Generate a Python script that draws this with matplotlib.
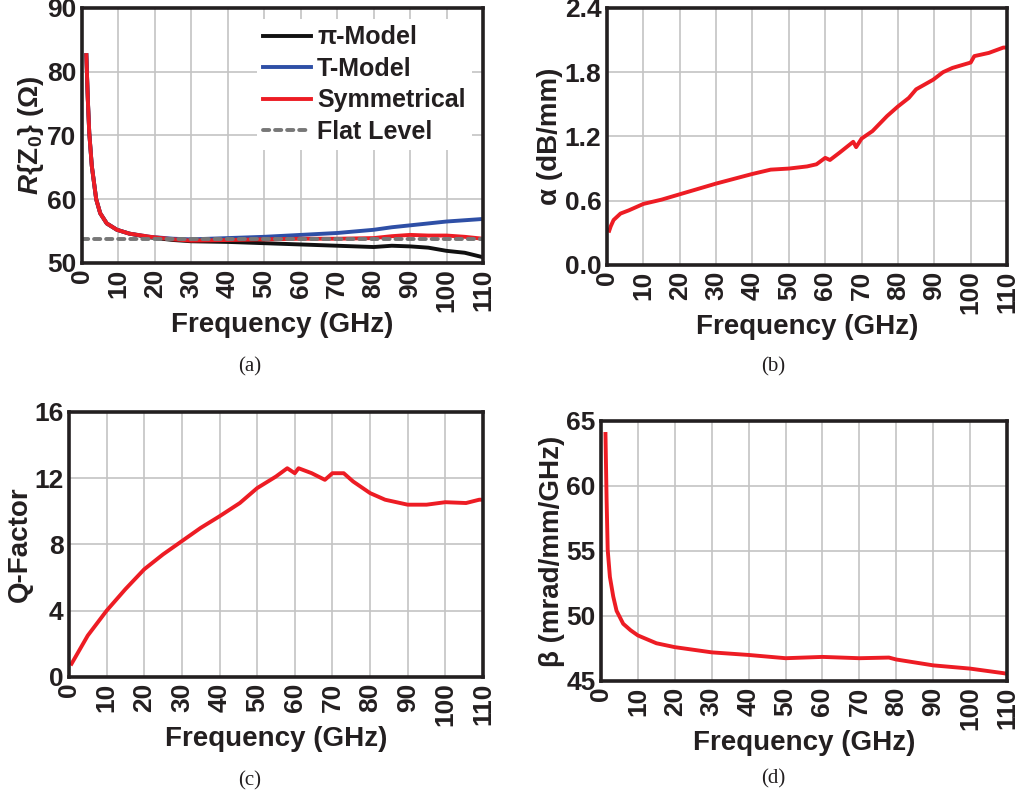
import matplotlib
matplotlib.use('Agg')
from matplotlib import pyplot as plt

# ---- data ----
freq_a = [1.2, 1.6, 2.0, 2.7, 3.9, 5.0, 6.8, 9.6, 13, 18.7, 25, 30, 40, 50,
          60, 70, 80, 85, 90, 95, 100, 105, 110]
pi_model = [82.6, 75.7, 70.4, 65.2, 60.0, 57.8, 56.2, 55.2, 54.6, 54.0, 53.6, 53.4,
            53.3, 53.1, 52.9, 52.7, 52.5, 52.7, 52.6, 52.4, 51.9, 51.6, 50.9]
t_model = [82.6, 75.7, 70.4, 65.2, 60.0, 57.8, 56.2, 55.2, 54.6, 54.1, 53.8, 53.7,
           53.9, 54.1, 54.4, 54.7, 55.2, 55.6, 55.9, 56.2, 56.5, 56.7, 56.9]
symmetrical = [82.6, 75.7, 70.4, 65.2, 60.0, 57.8, 56.2, 55.2, 54.6, 54.1, 53.7, 53.5,
               53.6, 53.7, 53.8, 53.8, 53.9, 54.2, 54.4, 54.3, 54.3, 54.1, 53.8]
flat_level = 53.7

freq_b = [0.6, 1.0, 1.8, 3.7, 6, 10, 15, 20, 30, 40, 45, 50, 55, 57.6, 60, 61.3,
          64, 67.7, 68.5, 70, 73, 77, 80, 83, 85, 89.7, 92.4, 95, 100, 101, 105, 109, 110]
alpha = [0.32, 0.36, 0.42, 0.48, 0.51, 0.57, 0.61, 0.66, 0.76, 0.85, 0.89, 0.90, 0.92,
         0.94, 1.00, 0.98, 1.05, 1.15, 1.10, 1.18, 1.25, 1.39, 1.48, 1.56, 1.64, 1.73,
         1.80, 1.84, 1.89, 1.95, 1.98, 2.03, 2.03]

freq_c = [0.7, 5, 10, 15, 20, 25, 30, 35, 40, 45.4, 50, 55, 58, 60, 61, 64.5, 68, 70,
          73, 75.5, 80, 84, 90, 95, 100, 105.5, 109, 110]
q_factor = [0.8, 2.5, 4.0, 5.3, 6.5, 7.4, 8.2, 9.0, 9.7, 10.5, 11.4, 12.1, 12.6, 12.3,
            12.6, 12.3, 11.9, 12.3, 12.3, 11.8, 11.1, 10.7, 10.4, 10.4, 10.55, 10.5,
            10.7, 10.7]

freq_d = [1.2, 1.5, 1.8, 2.4, 3.3, 4.2, 6, 8, 10, 15, 20, 30, 40, 50, 60, 70, 78, 80,
          90, 100, 109, 110]
beta = [64.0, 59.0, 55.1, 53.0, 51.5, 50.4, 49.4, 48.9, 48.5, 47.9, 47.6, 47.2, 47.0,
        46.75, 46.85, 46.75, 46.8, 46.65, 46.2, 45.95, 45.6, 45.55]

x_ticks = list(range(0, 111, 10))

plt.rcParams['font.family'] = ['Liberation Sans', 'DejaVu Sans']
plt.rcParams['font.weight'] = 'bold'
plt.rcParams['axes.labelweight'] = 'bold'
plt.rcParams['mathtext.fontset'] = 'custom'
plt.rcParams['mathtext.it'] = 'Liberation Sans:italic:bold'
plt.rcParams['mathtext.rm'] = 'Liberation Sans:bold'
plt.rcParams['mathtext.bf'] = 'Liberation Sans:bold'

ink = '#231f20'
red = '#ed1c24'


def style(ax, ylim, yticks, ylabel):
    ax.set_xlim(0, 110)
    ax.set_ylim(*ylim)
    ax.set_xticks(x_ticks)
    ax.set_xticklabels([str(v) for v in x_ticks], rotation=90)
    ax.set_yticks(yticks)
    ax.grid(True, color='#c4c4c4', lw=1.2)
    ax.set_axisbelow(True)
    for s in ax.spines.values():
        s.set_linewidth(2.6)
        s.set_color(ink)
    ax.tick_params(length=0, pad=4, labelsize=19, colors=ink)
    ax.set_xlabel('Frequency (GHz)', fontsize=20, color=ink, labelpad=0)
    ax.set_ylabel(ylabel, fontsize=20, color=ink, labelpad=1)


fig = plt.figure(figsize=(10.17, 8), dpi=100)

# (a)
ax1 = fig.add_axes([0.0806, 0.6713, 0.3943, 0.3188])
ax1.plot(freq_a, pi_model, color='#111111', lw=2.8, label='π-Model')
ax1.plot(freq_a, t_model, color='#2e4fa6', lw=2.8, label='T-Model')
ax1.plot(freq_a, symmetrical, color=red, lw=2.8, label='Symmetrical')
ax1.plot([0, 110], [flat_level, flat_level], color='#777777', lw=2.8,
         ls=(0, (1.6, 1.5)), dash_capstyle='round', label='Flat Level')
style(ax1, (50, 90), [50, 60, 70, 80, 90], r'$R$' + '{Z' + r'$_0$' + '} (Ω)')
leg = ax1.legend(loc='upper right', fontsize=18, frameon=True, fancybox=False,
                 framealpha=1, edgecolor='none', handlelength=1.9,
                 handletextpad=0.25, labelspacing=0.3, borderpad=0.25,
                 borderaxespad=0.45)
for t in leg.get_texts():
    t.set_color(ink)

# (b)
ax2 = fig.add_axes([0.5969, 0.6688, 0.3933, 0.3213])
ax2.plot(freq_b, alpha, color=red, lw=2.8)
style(ax2, (0, 2.4), [0, 0.6, 1.2, 1.8, 2.4], 'α (dB/mm)')
ax2.set_yticklabels(['0.0', '0.6', '1.2', '1.8', '2.4'])

# (c)
ax3 = fig.add_axes([0.0678, 0.1538, 0.4071, 0.3313])
ax3.plot(freq_c, q_factor, color=red, lw=2.8)
style(ax3, (0, 16), [0, 4, 8, 12, 16], 'Q-Factor')

# (d)
ax4 = fig.add_axes([0.591, 0.1488, 0.3992, 0.325])
ax4.plot(freq_d, beta, color=red, lw=2.8)
style(ax4, (45, 65), [45, 50, 55, 60, 65], 'β (mrad/mm/GHz)')

# captions
for x, y, s in [(250, 367, '(a)'), (773, 367, '(b)'), (250, 781, '(c)'), (773, 779, '(d)')]:
    fig.text(x / 1017, 1 - y / 800, s, ha='center', va='center', fontsize=15,
             family='Liberation Serif', weight='normal', color=ink)

fig.savefig('out.png', dpi=100)
